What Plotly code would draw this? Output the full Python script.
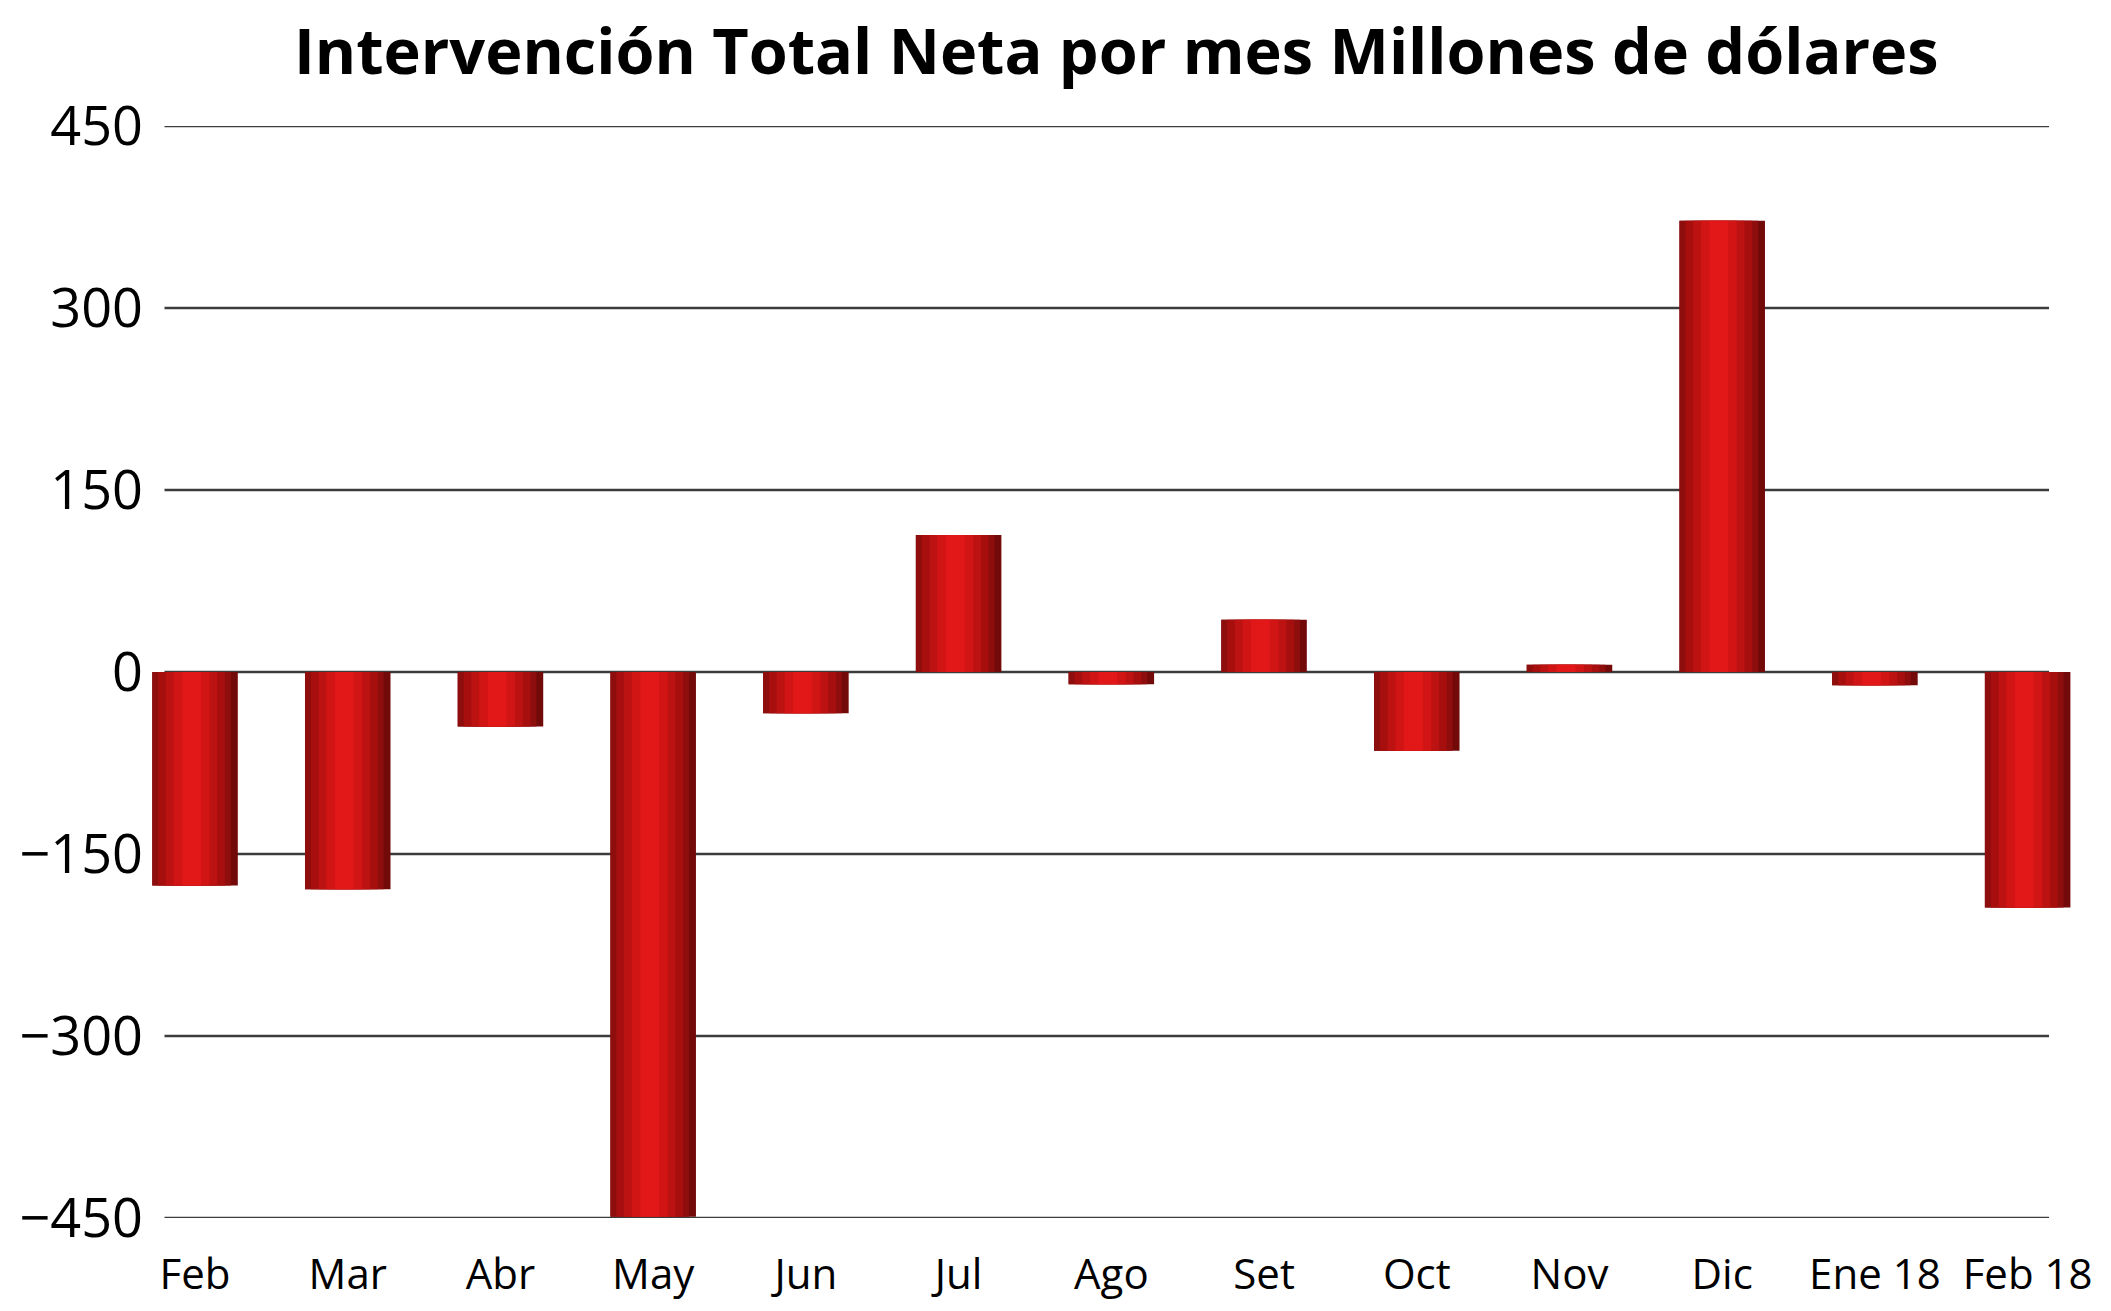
import plotly.graph_objects as go

months = ["Feb", "Mar", "Abr", "May", "Jun", "Jul", "Ago", "Set", "Oct", "Nov", "Dic", "Ene 18", "Feb 18"]
intervencion = [-176, -179, -45, -449, -34, 113, -10, 43, -65, 6, 372, -11, -194]
y_ticks = [-450, -300, -150, 0, 150, 300, 450]

FONT = "Lucida Grande, Open Sans, DejaVu Sans, sans-serif"
BAR_W = 0.56

# cylinder look: stacked overlay bars, narrower and brighter towards the highlight
layers = [
    (1.00, "#730a0a"),
    (0.92, "#8e0d0d"),
    (0.78, "#a70f0f"),
    (0.60, "#bd1212"),
    (0.42, "#d11414"),
    (0.22, "#e21818"),
]
highlight = 0.46  # position of the shine across the bar (0 = left edge)

fig = go.Figure()
for frac, color in layers:
    w = BAR_W * frac
    center = -BAR_W / 2 + BAR_W * highlight if frac < 1 else 0
    fig.add_trace(go.Bar(
        x=list(range(len(months))), y=intervencion,
        width=w, offset=center - w / 2,
        marker=dict(color=color, line=dict(width=0)),
        showlegend=False, hoverinfo="skip",
    ))

for t in y_ticks:
    fig.add_shape(type="line", xref="x", yref="y", x0=-0.2, x1=12.14, y0=t, y1=t,
                  line=dict(color="#3c3c3c", width=2.5), layer="below")

# page body has an 8px margin, so the figure is a bit smaller than the window
fig.update_layout(
    width=2103, height=1303,
    barmode="overlay",
    plot_bgcolor="white", paper_bgcolor="white",
    margin=dict(l=140, r=7, t=118, b=93),
    title=dict(text="<b>Intervención Total Neta por mes Millones de dólares</b>",
               x=0.527, xanchor="center", y=0.966, yanchor="middle",
               font=dict(family=FONT, size=63, color="black")),
    font=dict(family=FONT, color="black"),
)
fig.update_xaxes(
    range=[-0.308, 12.5], automargin=False,
    tickmode="array", tickvals=list(range(len(months))), ticktext=months,
    showgrid=False, zeroline=False, showline=False,
    ticks="", ticklabelstandoff=28,
    tickfont=dict(family=FONT, size=42, color="black"),
)
fig.update_yaxes(
    range=[-450, 450], automargin=False,
    tickmode="array", tickvals=y_ticks,
    showgrid=False, zeroline=False, showline=False,
    ticks="", ticklabelstandoff=4,
    tickfont=dict(family=FONT, size=54, color="black"),
)

fig.write_html("out.html")
